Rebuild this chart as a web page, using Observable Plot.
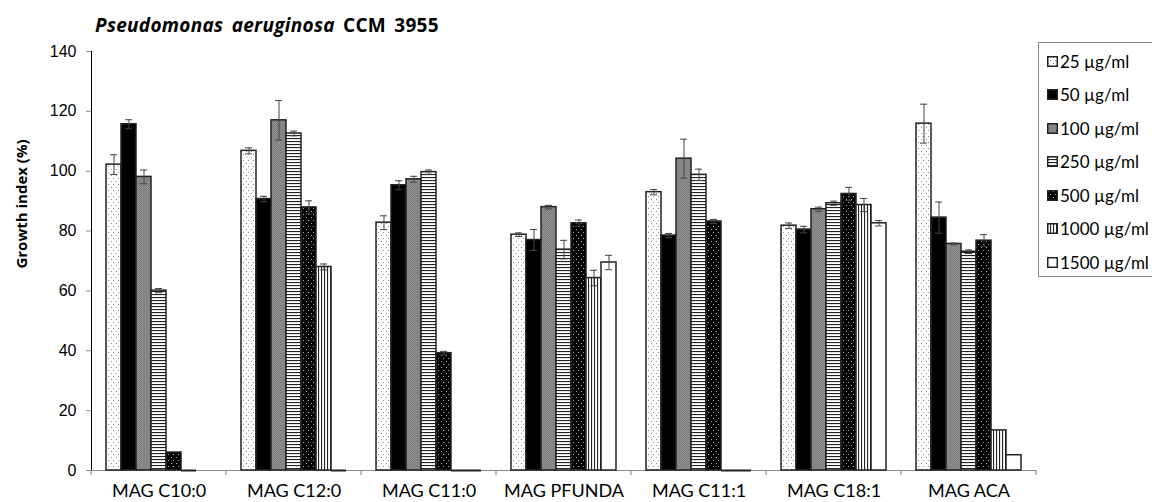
<!DOCTYPE html>
<html><head><meta charset="utf-8">
<script src="https://cdn.jsdelivr.net/npm/d3@7"></script>
<script src="https://cdn.jsdelivr.net/npm/@observablehq/plot@0.6"></script>
<style>
html,body{margin:0;padding:0;background:#fff;overflow:hidden;width:1152px;height:502px;}
#wrap{position:relative;width:1152px;height:502px;overflow:hidden;}
#chart{position:absolute;left:0;top:0;}
#title{position:absolute;left:95px;top:12px;font-family:"Open Sans",sans-serif;font-weight:bold;font-size:19px;line-height:26px;word-spacing:3px;letter-spacing:0.3px;color:#000;white-space:nowrap;}
#ylabel{position:absolute;left:21px;top:204px;transform:translate(-50%,-50%) rotate(-90deg);font-family:"Open Sans",sans-serif;font-weight:bold;font-size:15px;line-height:18px;white-space:nowrap;color:#000;}
#legend{position:absolute;left:1038px;top:42px;width:140px;height:235px;border:1px solid #888;box-sizing:border-box;background:#fff;}
.item{position:absolute;left:8px;height:22px;display:flex;align-items:center;font-family:Lato,sans-serif;font-size:17px;white-space:nowrap;color:#000;}
.item svg{margin-right:2px;}
</style></head><body>
<svg width="0" height="0" style="position:absolute">
  <defs>
    <pattern id="p25" patternUnits="userSpaceOnUse" width="5" height="6">
      <rect width="5" height="6" fill="#fff"/>
      <rect x="1" y="1" width="1" height="1" fill="#8a8a8a"/>
      <rect x="3" y="4" width="1" height="1" fill="#8a8a8a"/>
    </pattern>
    <pattern id="p100" patternUnits="userSpaceOnUse" width="2" height="2">
      <rect width="2" height="2" fill="#909090"/>
      <rect x="0" y="0" width="1" height="1" fill="#7c7c7c"/>
      <rect x="1" y="1" width="1" height="1" fill="#7c7c7c"/>
    </pattern>
    <pattern id="p250" patternUnits="userSpaceOnUse" width="4" height="3">
      <rect width="4" height="3" fill="#fff"/>
      <rect x="0" y="0" width="4" height="1.1" fill="#222"/>
    </pattern>
    <pattern id="p500" patternUnits="userSpaceOnUse" width="5" height="6">
      <rect width="5" height="6" fill="#000"/>
      <rect x="1" y="1" width="1" height="1" fill="#b0b0b0"/>
      <rect x="3" y="4" width="1" height="1" fill="#b0b0b0"/>
    </pattern>
    <pattern id="p1000" patternUnits="userSpaceOnUse" width="3" height="4">
      <rect width="3" height="4" fill="#fff"/>
      <rect x="0" y="0" width="1.1" height="4" fill="#222"/>
    </pattern>
  </defs>
</svg>
<div id="wrap">
  <div id="chart"></div>
  <div id="title"><i>Pseudomonas aeruginosa</i> CCM 3955</div>
  <div id="ylabel">Growth index (%)</div>
  <div id="legend"></div>
</div>
<script>
// ---- data ----
const categories = ["MAG C10:0", "MAG C12:0", "MAG C11:0", "MAG PFUNDA", "MAG C11:1", "MAG C18:1", "MAG ACA"];
const concentrations = ["25 µg/ml", "50 µg/ml", "100 µg/ml", "250 µg/ml", "500 µg/ml", "1000 µg/ml", "1500 µg/ml"];
const c25   = [102.2, 106.8, 82.8, 78.8, 93.0, 81.8, 115.9];
const c50   = [115.7, 90.7, 95.3, 77.0, 78.5, 80.5, 84.5];
const c100  = [98.1, 117.0, 97.3, 88.0, 104.2, 87.3, 75.7];
const c250  = [60.1, 112.6, 99.7, 73.8, 98.8, 89.3, 73.1];
const c500  = [6.0, 87.9, 39.2, 82.6, 83.2, 92.4, 76.8];
const c1000 = [0, 68.0, 0, 64.3, 0, 88.7, 13.4];
const c1500 = [null, 0, 0, 69.5, 0, 82.6, 5.1];
const e25   = [3.3, 1.0, 2.3, 0.6, 0.9, 0.9, 6.5];
const e50   = [1.5, 0.9, 1.5, 3.5, 0.7, 1.1, 5.2];
const e100  = [2.3, 6.6, 1.0, 0.6, 6.5, 0.7, 0.3];
const e250  = [0.7, 0.8, 0.7, 3.1, 1.9, 0.7, 0.6];
const e500  = [0, 2.2, 0.6, 1.1, 0.7, 2.2, 2.0];
const e1000 = [0, 1.0, 0, 2.6, 0, 2.2, 0];
const e1500 = [0, 0, 0, 2.4, 0, 0.9, 0];
const yTicks = [0, 20, 40, 60, 80, 100, 120, 140];
const fills = ["url(#p25)", "#000", "url(#p100)", "url(#p250)", "url(#p500)", "url(#p1000)", "#fff"];

const series = [c25, c50, c100, c250, c500, c1000, c1500];
const errors = [e25, e50, e100, e250, e500, e1000, e1500];
const rows = categories.flatMap((cat, i) => concentrations.map((conc, j) => ({
  cat, conc, value: series[j][i], err: errors[j][i]
})));

const hasErr = d => d.value != null && d.err > 0;

const chart = Plot.plot({
  width: 1152, height: 502,
  marginTop: 51, marginBottom: 32, marginLeft: 91, marginRight: 116,
  style: {fontFamily: "'Liberation Sans', Arial, sans-serif", fontSize: "16px", background: "transparent", color: "#000", overflow: "visible"},
  facet: {data: rows, x: "cat"},
  fx: {domain: categories, padding: 0, axis: "bottom", label: null, tickSize: 0, tickPadding: 14},
  x: {domain: concentrations, paddingInner: 0, paddingOuter: 0.8, axis: null},
  y: {domain: [0, 140], ticks: yTicks, tickSize: 5, tickPadding: 10, line: true, label: null},
  color: {type: "ordinal", domain: concentrations, range: fills},
  marks: [
    Plot.ruleY([0], {stroke: "#8c8c8c", strokeWidth: 1.2}),
    Plot.barY(rows, {filter: d => d.value != null && d.value > 0, x: "conc", y: "value", fill: "conc", stroke: "#222", strokeWidth: 1.5}),
    Plot.tickY(rows, {filter: d => d.value === 0, x: "conc", y: "value", stroke: "#222", strokeWidth: 2}),
    Plot.ruleX(rows, {filter: hasErr, x: "conc", y1: d => d.value - d.err, y2: d => d.value + d.err, stroke: "#444", strokeWidth: 1}),
    Plot.tickY(rows, {filter: hasErr, x: "conc", y: d => d.value + d.err, insetLeft: 4, insetRight: 4, stroke: "#444", strokeWidth: 1}),
    Plot.tickY(rows, {filter: hasErr, x: "conc", y: d => d.value - d.err, insetLeft: 4, insetRight: 4, stroke: "#444", strokeWidth: 1})
  ]
});
document.getElementById("chart").appendChild(chart);

// ---- post-process axis styling ----
const svg = d3.select(chart);
svg.selectAll("text").each(function() {
  const t = this.textContent;
  if (categories.includes(t)) {
    d3.select(this).style("font-family", "Lato, sans-serif").style("font-size", "18px");
  }
});
svg.selectAll('[aria-label="y-axis"] path, [aria-label="y-axis"] line, [aria-label="y-axis tick"] path, [aria-label="y-axis"] .tick line, .domain')
  .attr("stroke", "#8c8c8c").style("stroke", "#8c8c8c");

// category boundary ticks along the x axis
const fxs = chart.scale("fx");
const yScale = chart.scale("y");
const fxBand = d3.scaleBand().domain(fxs.domain).range(fxs.range).padding(0);
const y0 = yScale.apply(0);
const bounds = fxs.domain.map(c => fxBand(c)).concat([fxBand.range()[1]]);
svg.append("g").selectAll("line").data(bounds).join("line")
  .attr("x1", d => d).attr("x2", d => d)
  .attr("y1", y0).attr("y2", y0 + 5)
  .attr("stroke", "#8c8c8c").attr("stroke-width", 1.2);

// ---- legend ----
const legend = d3.select("#legend");
concentrations.forEach((c, i) => {
  const item = legend.append("div").attr("class", "item").style("top", (7 + i * 33.5) + "px");
  const s = item.append("svg").attr("width", 11).attr("height", 11);
  s.append("rect").attr("x", 0.75).attr("y", 0.75).attr("width", 9.5).attr("height", 9.5)
    .attr("fill", fills[i]).attr("stroke", "#222").attr("stroke-width", 1.5);
  item.append("span").text(c);
});
</script>
</body></html>
